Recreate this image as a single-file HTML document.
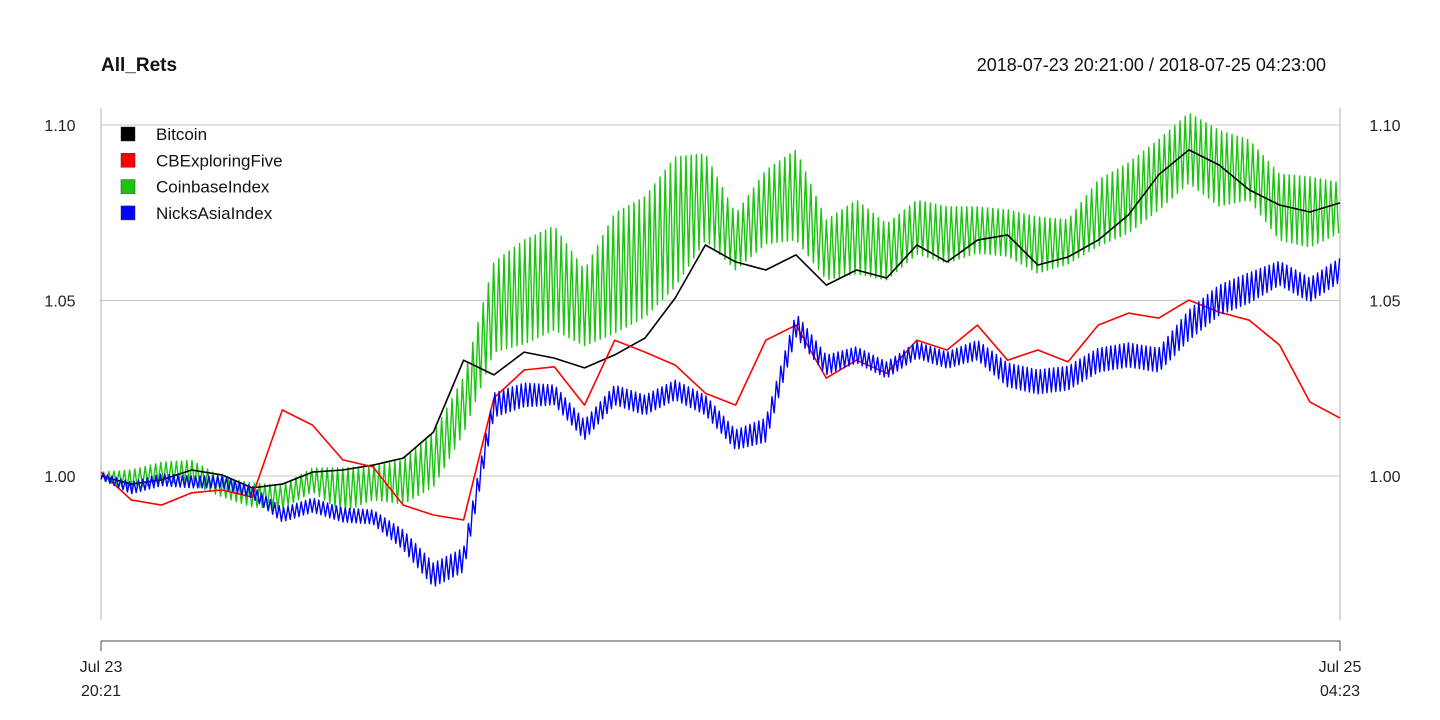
<!DOCTYPE html>
<html><head><meta charset="utf-8"><style>
html,body{margin:0;padding:0;background:#fff;}
svg{display:block;font-family:"Liberation Sans",Arial,sans-serif;}
</style></head><body>
<svg id="chart" width="1440" height="720" viewBox="0 0 1440 720">
<text x="101" y="71" font-size="19" font-weight="bold" fill="#111">All_Rets</text>
<text x="1326" y="71" font-size="18" text-anchor="end" fill="#111">2018-07-23 20:21:00 / 2018-07-25 04:23:00</text>
<g id="grid"></g>
<g id="series"></g>
<g id="legend"></g>
</svg>
<script>
const yTicks = [1.00, 1.05, 1.10];
const yTickLabels = ["1.00", "1.05", "1.10"];
const xTickLabels = [["Jul 23", "20:21"], ["Jul 25", "04:23"]];
const seriesNames = ["Bitcoin", "CBExploringFive", "CoinbaseIndex", "NicksAsiaIndex"];
const bitcoin = [1.0000,0.9977,0.9989,1.0017,1.0003,0.9966,0.9977,1.0011,1.0017,1.0031,1.0051,1.0125,1.0330,1.0288,1.0353,1.0336,1.0308,1.0345,1.0393,1.0507,1.0658,1.0610,1.0587,1.0630,1.0544,1.0587,1.0564,1.0658,1.0610,1.0672,1.0687,1.0601,1.0624,1.0672,1.0744,1.0858,1.0929,1.0886,1.0815,1.0772,1.0752,1.0778];
const cbExploring = [1.0011,0.9932,0.9917,0.9952,0.9960,0.9940,1.0188,1.0145,1.0046,1.0026,0.9917,0.9889,0.9875,1.0222,1.0302,1.0311,1.0202,1.0387,1.0353,1.0316,1.0236,1.0202,1.0387,1.0430,1.0279,1.0330,1.0293,1.0387,1.0359,1.0430,1.0330,1.0359,1.0325,1.0430,1.0464,1.0450,1.0501,1.0467,1.0444,1.0373,1.0211,1.0165];
const nicksAsia = [1.0000,0.9966,0.9989,0.9983,0.9983,0.9954,0.9889,0.9917,0.9889,0.9883,0.9818,0.9718,0.9761,1.0202,1.0231,1.0231,1.0131,1.0231,1.0202,1.0245,1.0202,1.0103,1.0131,1.0430,1.0316,1.0345,1.0302,1.0359,1.0330,1.0359,1.0288,1.0268,1.0279,1.0330,1.0345,1.0330,1.0430,1.0501,1.0536,1.0578,1.0530,1.0587];
const nicksAsiaSwing = [0.0009,0.0017,0.0017,0.0017,0.0017,0.0017,0.0020,0.0020,0.0020,0.0020,0.0028,0.0034,0.0034,0.0034,0.0034,0.0028,0.0028,0.0028,0.0028,0.0028,0.0028,0.0028,0.0034,0.0034,0.0028,0.0023,0.0023,0.0023,0.0023,0.0028,0.0034,0.0034,0.0034,0.0034,0.0034,0.0034,0.0043,0.0043,0.0043,0.0034,0.0034,0.0034];
const coinbase = [1.0000,0.9989,1.0011,1.0011,0.9969,0.9946,0.9940,0.9989,0.9960,0.9980,0.9983,1.0046,1.0202,1.0481,1.0524,1.0564,1.0479,1.0578,1.0624,1.0724,1.0795,1.0667,1.0766,1.0801,1.0644,1.0681,1.0638,1.0709,1.0687,1.0701,1.0692,1.0658,1.0667,1.0749,1.0792,1.0858,1.0934,1.0877,1.0872,1.0766,1.0752,1.0764];
const coinbaseSwing = [0.0011,0.0028,0.0028,0.0034,0.0028,0.0034,0.0034,0.0034,0.0063,0.0048,0.0063,0.0077,0.0080,0.0128,0.0148,0.0148,0.0108,0.0171,0.0171,0.0185,0.0123,0.0080,0.0105,0.0128,0.0085,0.0105,0.0080,0.0077,0.0080,0.0066,0.0066,0.0080,0.0063,0.0094,0.0100,0.0100,0.0100,0.0108,0.0085,0.0094,0.0100,0.0071];

const NS = "http://www.w3.org/2000/svg";
const X0 = 101, X1 = 1340;
function yScale(v){ return 476 - (v - 1.0) * 3510; }
function xScale(i, n){ return X0 + (X1 - X0) * i / (n - 1); }
function mk(tag, attrs, parent){ const e = document.createElementNS(NS, tag); for (const k in attrs) e.setAttribute(k, attrs[k]); parent.appendChild(e); return e; }
function interp(arr, t){ const i = Math.floor(t); const f = t - i; if (i >= arr.length - 1) return arr[arr.length-1]; return arr[i] + (arr[i+1]-arr[i]) * f; }

const grid = document.getElementById('grid');
yTicks.forEach((v, k) => {
  const y = yScale(v);
  const gl = mk('line', {x1: X0, x2: X1, y1: y, y2: y, stroke: '#c8c8c8', 'stroke-width': 1}, grid);
  
  
  const tl = mk('text', {x: 60, y: y + 6, 'font-size': 16, 'text-anchor': 'middle', fill: '#222'}, grid);
  tl.textContent = yTickLabels[k];
  
  
  const tr = mk('text', {x: 1385, y: y + 6, 'font-size': 16, 'text-anchor': 'middle', fill: '#222'}, grid);
  tr.textContent = yTickLabels[k];
  
  
});
[X0, X1].forEach((x, k) => {
  const vl = mk('line', {x1: x, x2: x, y1: 108, y2: 620, stroke: '#b0b0b0', 'stroke-width': 1}, grid);
  
  
  const tk = mk('line', {x1: x, x2: x, y1: 641, y2: 651, stroke: '#444', 'stroke-width': 1}, grid);
  
  
  xTickLabels[k].forEach((s, j) => {
    const t = mk('text', {x: x, y: 672 + j * 24, 'font-size': 16, 'text-anchor': 'middle', fill: '#222'}, grid);
    t.textContent = s;
    
    
  });
});
const ax = mk('line', {x1: X0, x2: X1, y1: 641, y2: 641, stroke: '#444', 'stroke-width': 1}, grid);



const sg = document.getElementById('series');
function drawLine(vals, color, name){
  const n = vals.length;
  const d = vals.map((v, i) => (i ? 'L' : 'M') + xScale(i, n).toFixed(1) + ' ' + yScale(v).toFixed(1)).join(' ');
  const p = mk('path', {d: d, fill: 'none', stroke: color, 'stroke-width': 1.6, 'stroke-linejoin': 'round'}, sg);
  
  
}
function drawSwing(vals, swing, color, step, name){
  const n = vals.length; let d = ''; let k = 0;
  for (let x = X0; x <= X1; x += step, k++) {
    const t = (x - X0) / (X1 - X0) * (n - 1);
    const c = interp(vals, t), s = interp(swing, t);
    const v = c + (k % 2 ? s : -s);
    d += (k ? 'L' : 'M') + x.toFixed(1) + ' ' + yScale(v).toFixed(1) + ' ';
  }
  const p = mk('path', {d: d, fill: 'none', stroke: color, 'stroke-width': 1.4, 'stroke-linejoin': 'round'}, sg);
  
  
}
drawSwing(coinbase, coinbaseSwing, '#1ac40f', 2.6, 'coinbase-index-line');
drawLine(bitcoin, '#000000', 'bitcoin-line');
drawLine(cbExploring, '#ff0000', 'cb-exploring-five-line');
drawSwing(nicksAsia, nicksAsiaSwing, '#0000ff', 2.2, 'nicks-asia-index-line');

const lg = document.getElementById('legend');
const colors = ['#000000', '#ff0000', '#1ac40f', '#0000ff'];
seriesNames.forEach((nm, i) => {
  const y = 134 + i * 26.3;
  const r = mk('rect', {x: 121, y: y - 7, width: 14, height: 14, fill: colors[i], stroke: '#333', 'stroke-width': 0.5}, lg);
  
  
  const t = mk('text', {x: 156, y: y + 6, 'font-size': 17, fill: '#111'}, lg);
  t.textContent = nm;
  
  
});
</script>
</body></html>
